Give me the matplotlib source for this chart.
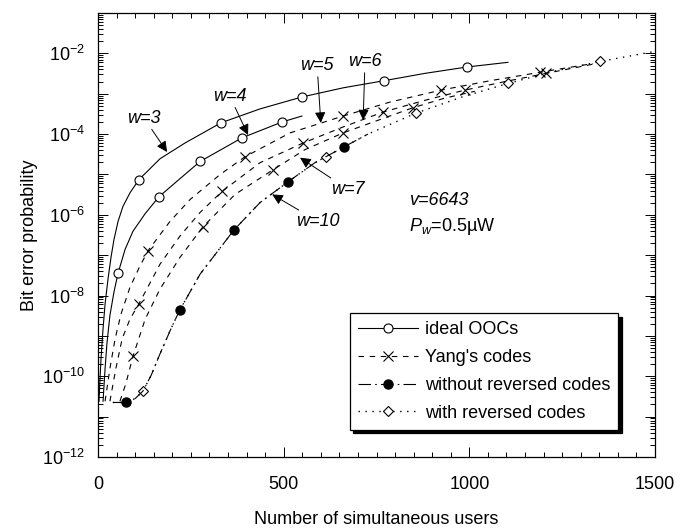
import matplotlib
matplotlib.use("Agg")
import matplotlib.pyplot as plt
from matplotlib.ticker import MultipleLocator, LogLocator, FuncFormatter, NullFormatter
from matplotlib.lines import Line2D
import numpy as np

plt.rcParams['font.family'] = ['Liberation Sans', 'DejaVu Sans']
plt.rcParams['mathtext.fontset'] = 'custom'
plt.rcParams['mathtext.rm'] = 'Liberation Sans'
plt.rcParams['mathtext.it'] = 'Liberation Sans:italic'
plt.rcParams['lines.scale_dashes'] = False

# ---------------- data ----------------
# w=3, ideal OOCs
w3_users = [2.7, 5.4, 8.1, 13.5, 19, 27, 35, 43, 54, 67, 86, 110, 167, 234, 331, 436, 549,
            660, 770, 881, 994, 1104]
w3_ber = [2.4e-11, 8.9e-11, 2.75e-10, 1.5e-9, 6.2e-9, 2.6e-8, 8.9e-8, 2.45e-7, 6.9e-7, 1.6e-6,
          3.5e-6, 7.4e-6, 2.45e-5, 6.0e-5, 1.9e-4, 4.2e-4, 8.3e-4, 1.4e-3, 2.1e-3, 3.2e-3,
          4.6e-3, 6.0e-3]
w3_mark_users = [110, 331, 549, 770, 994]
w3_mark_ber = [7.4e-6, 1.9e-4, 8.3e-4, 2.1e-3, 4.6e-3]

# w=4, ideal OOCs
w4_users = [13.5, 19, 24, 32, 43, 54, 73, 94, 127, 164, 221, 275, 388, 496, 549]
w4_ber = [2.4e-11, 1.55e-10, 6.5e-10, 3.2e-9, 1.23e-8, 3.6e-8, 1.4e-7, 3.9e-7, 1.07e-6,
          2.8e-6, 7.9e-6, 2.1e-5, 8.1e-5, 2.0e-4, 2.8e-4]
w4_mark_users = [54, 164, 275, 388, 496]
w4_mark_ber = [3.6e-8, 2.8e-6, 2.1e-5, 8.1e-5, 2.0e-4]

# w=5, Yang's codes
w5_users = [19, 32, 46, 62, 86, 113, 135, 194, 248, 329, 396, 517, 660, 786, 924, 1056, 1190, 1333]
w5_ber = [2.4e-11, 1.55e-10, 8.5e-10, 3.5e-9, 1.6e-8, 5.4e-8, 1.3e-7, 6.9e-7, 2.4e-6, 1.0e-5,
          2.75e-5, 1.07e-4, 2.8e-4, 6.2e-4, 1.23e-3, 2.1e-3, 3.4e-3, 5.6e-3]
w5_mark_users = [135, 396, 660, 924, 1190]
w5_mark_ber = [1.3e-7, 2.75e-5, 2.8e-4, 1.23e-3, 3.4e-3]

# w=6, Yang's codes
w6_users = [32, 48, 65, 86, 110, 167, 221, 275, 334, 436, 552, 660, 767, 881, 988, 1096, 1207, 1333]
w6_ber = [2.4e-11, 1.55e-10, 8.5e-10, 2.6e-9, 6.2e-9, 6.0e-8, 3.0e-7, 1.15e-6, 3.8e-6, 1.95e-5,
          6.0e-5, 1.5e-4, 3.5e-4, 6.9e-4, 1.23e-3, 2.0e-3, 3.2e-3, 5.4e-3]
w6_mark_users = [110, 334, 552, 767, 988, 1207]
w6_mark_ber = [6.2e-9, 3.8e-6, 6.0e-5, 3.5e-4, 1.23e-3, 3.2e-3]

# w=7, Yang's codes
w7_users = [59, 75, 94, 127, 167, 221, 283, 369, 471, 557, 660, 754, 848, 934, 1015]
w7_ber = [2.4e-11, 6.6e-11, 3.1e-10, 2.6e-9, 1.45e-8, 8.9e-8, 5.1e-7, 3.2e-6, 1.3e-5, 4.1e-5,
          1.07e-4, 2.2e-4, 4.5e-4, 7.8e-4, 1.15e-3]
w7_mark_users = [94, 283, 471, 660, 848]
w7_mark_ber = [3.1e-10, 5.1e-7, 1.3e-5, 1.07e-4, 4.5e-4]

# w=10, without reversed codes
w10_users = [40, 75, 100, 121, 143, 167, 199, 221, 275, 366, 436, 512, 584, 662, 727]
w10_ber = [2.24e-11, 2.24e-11, 2.8e-11, 4.3e-11, 1.05e-10, 3.6e-10, 1.7e-9, 4.5e-9, 3.4e-8,
           4.2e-7, 2.0e-6, 6.6e-6, 1.95e-5, 4.8e-5, 1.0e-4]
w10_mark_users = [75, 221, 366, 512, 662]
w10_mark_ber = [2.24e-11, 4.5e-9, 4.2e-7, 6.6e-6, 4.8e-5]

# w=10, with reversed codes (continues beyond the plain code set)
rev_extra_users = [856, 980, 1104, 1228, 1352, 1500]
rev_extra_ber = [3.3e-4, 8.3e-4, 1.8e-3, 3.6e-3, 6.3e-3, 1.12e-2]
rev_mark_users = [121, 614, 856, 1104, 1352]
rev_mark_ber = [4.3e-11, 2.75e-5, 3.3e-4, 1.8e-3, 6.3e-3]

legend_labels = ["ideal OOCs", "Yang's codes", "without reversed codes", "with reversed codes"]

# ---------------- figure ----------------
fig = plt.figure(figsize=(6.85, 5.31), dpi=100)
ax = fig.add_axes([0.1431, 0.1394, 0.8131, 0.8361])

lw = 0.8
solid = '-'
dashed = (0, (4, 4))
dashdot = (0, (9, 3, 1.2, 3))
dotted = (0, (1, 4))

# ideal OOCs
for xs, ys, mx, my in [(w3_users, w3_ber, w3_mark_users, w3_mark_ber),
                       (w4_users, w4_ber, w4_mark_users, w4_mark_ber)]:
    ax.plot(xs, ys, color='k', lw=lw, ls=solid)
    ax.plot(mx, my, ls='none', marker='o', ms=6.5, mfc='white', mec='k', mew=0.8)

# Yang's codes
for xs, ys, mx, my in [(w5_users, w5_ber, w5_mark_users, w5_mark_ber),
                       (w6_users, w6_ber, w6_mark_users, w6_mark_ber),
                       (w7_users, w7_ber, w7_mark_users, w7_mark_ber)]:
    ax.plot(xs, ys, color='k', lw=lw, ls=dashed)
    ax.plot(mx, my, ls='none', marker='x', ms=7.5, mec='k', mew=0.8)

# with reversed codes
rev_users = w10_users + rev_extra_users
rev_ber = w10_ber + rev_extra_ber
ax.plot(rev_users, rev_ber, color='k', lw=1.0, ls=dotted)
ax.plot(rev_mark_users, rev_mark_ber, ls='none', marker='D', ms=5, mfc='white', mec='k', mew=0.8)

# without reversed codes
ax.plot(w10_users, w10_ber, color='k', lw=lw, ls=dashdot)
ax.plot(w10_mark_users, w10_mark_ber, ls='none', marker='o', ms=6.5, mfc='k', mec='k')

ax.set_yscale('log')
ax.set_xlim(0, 1500)
ax.set_ylim(1e-12, 1e-1)

ax.xaxis.set_major_locator(MultipleLocator(500))
ax.xaxis.set_minor_locator(MultipleLocator(50))
ax.yaxis.set_major_locator(LogLocator(base=10, numticks=30))
ax.yaxis.set_minor_locator(LogLocator(base=10, subs=np.arange(2, 10), numticks=30))
ax.yaxis.set_minor_formatter(NullFormatter())


def yfmt(v, pos):
    e = int(round(np.log10(v)))
    if e % 2 == 0 and e <= -2:
        return r'$10^{%d}$' % e
    return ''


ax.yaxis.set_major_formatter(FuncFormatter(yfmt))
ax.tick_params(which='both', direction='in', top=True, right=True, width=0.7)
ax.tick_params(which='major', length=7, labelsize=13)
ax.tick_params(axis='x', which='major', pad=14)
ax.tick_params(axis='y', which='major', pad=9.5)
ax.tick_params(which='minor', length=3.5)
for s in ax.spines.values():
    s.set_linewidth(0.9)

ax.set_xlabel('Number of simultaneous users', fontsize=13, labelpad=13)
ax.set_ylabel('Bit error probability', fontsize=13, labelpad=3)

# annotations
tkw = dict(fontsize=13, style='italic', ha='center', va='center')
akw = dict(arrowstyle='-|>', color='k', lw=0.7, mutation_scale=16, shrinkA=0, shrinkB=0)
ax.annotate('w=3', xy=(186, 3.6e-5), xytext=(124, 2.5e-4), arrowprops=akw, **tkw)
ax.annotate('w=4', xy=(404, 9.5e-5), xytext=(355, 8.7e-4), arrowprops=akw, **tkw)
ax.annotate('w=5', xy=(600, 1.9e-4), xytext=(590, 5.0e-3), arrowprops=akw, **tkw)
ax.annotate('w=6', xy=(714, 2.2e-4), xytext=(719, 6.3e-3), arrowprops=akw, **tkw)
ax.annotate('w=7', xy=(544, 2.6e-5), xytext=(673, 4.3e-6), arrowprops=akw, **tkw)
ax.annotate('w=10', xy=(469, 3.2e-6), xytext=(592, 6.9e-7), arrowprops=akw, **tkw)

ax.text(838, 2.3e-6, 'v=6643', fontsize=13, style='italic', ha='left', va='center')
ax.text(838, 5.1e-7, r'$P_{w}$=0.5µW', fontsize=13, ha='left', va='center')

handles = [
    Line2D([], [], color='k', lw=lw, ls=solid, marker='o', ms=6.5, mfc='white', mew=0.8),
    Line2D([], [], color='k', lw=lw, ls=dashed, marker='x', ms=7, mew=0.8),
    Line2D([], [], color='k', lw=lw, ls=dashdot, marker='o', ms=6.5, mfc='k'),
    Line2D([], [], color='k', lw=1.0, ls=dotted, marker='D', ms=5, mfc='white', mew=0.8),
]
leg = ax.legend(handles, legend_labels, loc='lower right', bbox_to_anchor=(0.934, 0.061),
                fontsize=13, frameon=True, fancybox=False, edgecolor='k', framealpha=1,
                handlelength=3.3, handletextpad=0.4, borderpad=0.45, labelspacing=0.6,
                numpoints=1, shadow={'color': 'k', 'alpha': 1.0, 'ox': 2.5, 'oy': -2.5},
                borderaxespad=0)
leg.get_frame().set_linewidth(0.9)

fig.savefig('out.png', dpi=100)
